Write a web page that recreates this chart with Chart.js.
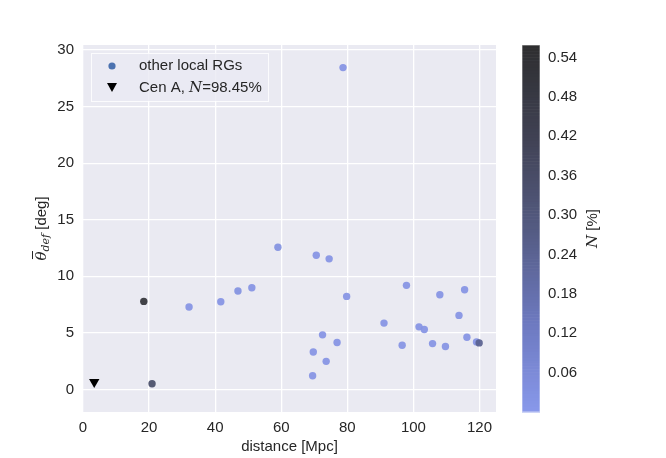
<!DOCTYPE html>
<html>
<head>
<meta charset="utf-8">
<script src="https://cdn.jsdelivr.net/npm/chart.js@4/dist/chart.umd.min.js"></script>
<style>
  html, body { margin: 0; padding: 0; background: #fff; }
  #wrap { width: 666px; height: 458px; }
</style>
</head>
<body>
<div id="wrap"><canvas id="cv" width="666" height="458"></canvas></div>
<script>
// data
const distance = [78.7, 59.0, 70.6, 74.5, 51.1, 46.9, 41.7, 32.1, 18.4, 20.9, 79.8, 97.9, 108.0, 115.5, 113.8,
                  91.1, 101.7, 103.3, 72.5, 76.9, 96.6, 105.8, 109.7, 116.2, 119.1, 119.9, 69.7, 73.6, 69.5];
const thetaDef = [28.45, 12.57, 11.86, 11.54, 8.99, 8.70, 7.75, 7.28, 7.78, 0.50, 8.22, 9.20, 8.37, 8.81, 6.54,
                  5.86, 5.53, 5.30, 4.82, 4.14, 3.90, 4.05, 3.79, 4.61, 4.20, 4.11, 3.31, 2.48, 1.21];
const nFrac    = [0.02, 0.03, 0.02, 0.02, 0.02, 0.03, 0.02, 0.02, 0.52, 0.36, 0.02, 0.02, 0.02, 0.02, 0.02,
                  0.02, 0.02, 0.02, 0.02, 0.02, 0.02, 0.02, 0.02, 0.02, 0.02, 0.25, 0.02, 0.02, 0.02];
const cenA = { x: 3.4, y: 0.65 };
const cenALabel = "Cen A, N=98.45%";
const otherLabel = "other local RGs";

const xTicks = [0, 20, 40, 60, 80, 100, 120];
const yTicks = [0, 5, 10, 15, 20, 25, 30];
const cbTicks = [0.06, 0.12, 0.18, 0.24, 0.30, 0.36, 0.42, 0.48, 0.54];
const cbMax = 0.559;

// colormap stops (light blue -> dark grey)
const cmapStops = [
  [0.00, [136, 152, 234]],
  [0.25, [108, 120, 190]],
  [0.50, [84, 91, 130]],
  [0.75, [64, 66, 84]],
  [1.00, [46, 46, 48]]
];

function cmap(t) {
  t = Math.max(0, Math.min(1, t));
  for (let i = 1; i < cmapStops.length; i++) {
    const [t1, c1] = cmapStops[i];
    const [t0, c0] = cmapStops[i - 1];
    if (t <= t1) {
      const f = (t - t0) / (t1 - t0);
      return c0.map((c, k) => Math.round(c + f * (c1[k] - c)));
    }
  }
  return cmapStops[cmapStops.length - 1][1];
}
const rgba = (c, a) => `rgba(${c[0]},${c[1]},${c[2]},${a})`;

const TXT = "#262626";
const SANS = '"Liberation Sans", Arial, sans-serif';
const SERIF_IT = 'italic 15px "DejaVu Serif", "Liberation Serif", serif';

// draws label text with a standalone N in italic serif
function drawMixed(ctx, text, x, y) {
  const m = text.match(/^(.*?)\bN\b(.*)$/);
  const parts = m ? [[m[1], "15px " + SANS], ["N", SERIF_IT], [m[2], "15px " + SANS]] : [[text, "15px " + SANS]];
  parts.forEach(([s, f]) => {
    ctx.font = f;
    ctx.fillText(s, x, y);
    x += ctx.measureText(s).width;
  });
}

// no extra end padding on the scales
function noPad(s) {
  s.paddingTop = 0; s.paddingBottom = 0; s.paddingLeft = 0; s.paddingRight = 0;
}

const decor = {
  id: "decor",
  beforeDraw(chart) {
    const { ctx, chartArea: a } = chart;
    ctx.save();
    ctx.fillStyle = "#eaeaf2";
    ctx.fillRect(a.left, a.top, a.right - a.left, a.bottom - a.top);
    ctx.restore();
  },
  afterDraw(chart) {
    const { ctx, chartArea: a, scales } = chart;
    const cb = scales.cb;
    ctx.save();

    // colorbar
    const x0 = cb.left + 26, w = 18;
    const top = cb.getPixelForValue(cbMax), bot = cb.getPixelForValue(0);
    const bands = 120;
    for (let i = 0; i < bands; i++) {
      const v0 = cbMax * i / bands, v1 = cbMax * (i + 1) / bands;
      const y0 = cb.getPixelForValue(v0), y1 = cb.getPixelForValue(v1);
      ctx.fillStyle = rgba(cmap(i / (bands - 1)), 1);
      ctx.fillRect(x0, y1, w, y0 - y1 + 0.6);
    }
    ctx.strokeStyle = "rgba(255,255,255,0.6)";
    ctx.lineWidth = 1;
    ctx.strokeRect(x0, top, w, bot - top);

    // colorbar label
    ctx.fillStyle = TXT;
    ctx.translate(593, (a.top + a.bottom) / 2);
    ctx.rotate(-Math.PI / 2);
    ctx.textBaseline = "middle";
    ctx.font = SERIF_IT;
    const nW = ctx.measureText("N").width;
    ctx.font = "15px " + SANS;
    const rW = ctx.measureText(" [%]").width;
    let sx = -(nW + rW) / 2;
    ctx.font = SERIF_IT;
    ctx.fillText("N", sx, 0);
    ctx.font = "15px " + SANS;
    ctx.fillText(" [%]", sx + nW, 0);
    ctx.setTransform(1, 0, 0, 1, 0, 0);

    // y label: theta-bar_def [deg]
    ctx.translate(41, (a.top + a.bottom) / 2);
    ctx.rotate(-Math.PI / 2);
    ctx.textBaseline = "alphabetic";
    const th = "θ", sub = "def", rest = " [deg]";
    ctx.font = SERIF_IT;
    const thW = ctx.measureText(th).width;
    ctx.font = 'italic 11px "DejaVu Serif", serif';
    const subW = ctx.measureText(sub).width;
    ctx.font = "15px " + SANS;
    const restW = ctx.measureText(rest).width;
    let px = -(thW + subW + restW) / 2;
    const base = 5;
    ctx.font = SERIF_IT;
    ctx.fillText(th, px, base);
    ctx.strokeStyle = TXT;
    ctx.lineWidth = 1;
    ctx.beginPath();
    ctx.moveTo(px + 1.5, base - 13.5);
    ctx.lineTo(px + thW + 0.5, base - 13.5);
    ctx.stroke();
    px += thW;
    ctx.font = 'italic 11px "DejaVu Serif", serif';
    ctx.fillText(sub, px, base + 3);
    px += subW;
    ctx.font = "15px " + SANS;
    ctx.fillText(rest, px, base);
    ctx.setTransform(1, 0, 0, 1, 0, 0);

    // legend
    const lx = 91, ly = 53, lw = 177, lh = 48;
    ctx.fillStyle = "rgba(234,234,242,0.8)";
    ctx.fillRect(lx, ly, lw, lh);
    ctx.strokeStyle = "rgba(255,255,255,0.8)";
    ctx.strokeRect(lx + 0.5, ly + 0.5, lw, lh);
    ctx.fillStyle = "#4c72b0";
    ctx.beginPath();
    ctx.arc(112, 66, 3.6, 0, Math.PI * 2);
    ctx.fill();
    ctx.fillStyle = "#000";
    ctx.beginPath();
    ctx.moveTo(107, 83);
    ctx.lineTo(117, 83);
    ctx.lineTo(112, 92);
    ctx.closePath();
    ctx.fill();
    ctx.fillStyle = TXT;
    ctx.textBaseline = "middle";
    drawMixed(ctx, chart.data.datasets[0].label, 139, 66);
    drawMixed(ctx, chart.data.datasets[1].label, 139, 88);
    ctx.restore();
  }
};

const pts = distance.map((d, i) => ({ x: d, y: thetaDef[i] }));
const ptColors = nFrac.map(n => rgba(cmap(n / cbMax), 0.92));

new Chart(document.getElementById("cv"), {
  type: "scatter",
  data: {
    datasets: [
      {
        label: otherLabel,
        data: pts,
        pointRadius: 3.7,
        pointHoverRadius: 3.7,
        pointBackgroundColor: ptColors,
        pointBorderWidth: 0,
        borderWidth: 0
      },
      {
        label: cenALabel,
        data: [cenA],
        pointStyle: "triangle",
        rotation: 180,
        pointRadius: 6,
        pointBackgroundColor: "#000",
        pointBorderWidth: 0,
        borderWidth: 0
      }
    ]
  },
  options: {
    responsive: false,
    animation: false,
    events: [],
    layout: { padding: { top: 45, left: 0, right: 0, bottom: 0 } },
    plugins: { legend: { display: false }, tooltip: { enabled: false } },
    scales: {
      x: {
        type: "linear",
        min: 0, max: 125,
        afterBuildTicks: s => { s.ticks = xTicks.map(v => ({ value: v })); },
        afterFit: s => { s.height = 46; noPad(s); },
        grid: { color: "#ffffff", lineWidth: 1.3, drawTicks: false },
        border: { display: false },
        ticks: { color: TXT, font: { family: SANS, size: 15 }, padding: 7, maxRotation: 0 },
        title: { display: true, text: "distance [Mpc]", color: TXT, font: { family: SANS, size: 15 }, padding: { top: 0, bottom: 2 } }
      },
      y: {
        type: "linear",
        min: -2, max: 30.45,
        afterBuildTicks: s => { s.ticks = yTicks.map(v => ({ value: v })); },
        afterFit: s => { s.width = 83; noPad(s); },
        grid: { color: "#ffffff", lineWidth: 1.3, drawTicks: false },
        border: { display: false },
        ticks: { color: TXT, font: { family: SANS, size: 15 }, padding: 9 }
      },
      cb: {
        type: "linear",
        position: "right",
        min: 0, max: cbMax,
        afterBuildTicks: s => { s.ticks = cbTicks.map(v => ({ value: v })); },
        afterFit: s => { s.width = 170; noPad(s); },
        grid: { display: false, drawTicks: false },
        border: { display: false },
        ticks: { color: TXT, font: { family: SANS, size: 15 }, padding: 52, callback: v => v.toFixed(2) }
      }
    }
  },
  plugins: [decor]
});
</script>
</body>
</html>
